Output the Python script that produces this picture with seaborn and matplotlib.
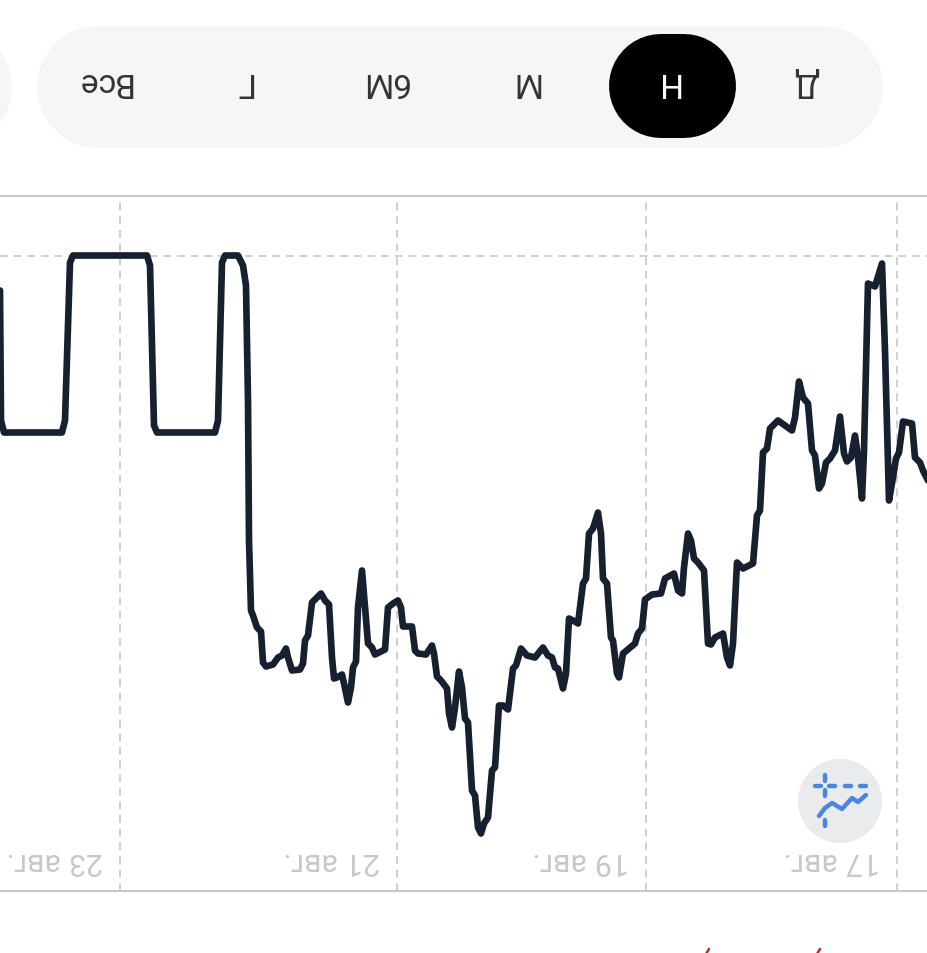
import matplotlib
matplotlib.use('Agg')
import matplotlib.pyplot as plt
from matplotlib.patches import Circle
import pandas as pd
import seaborn as sns

# the source screenshot is upside down, so both axes get inverted below
pos = [928, 927, 924, 866, 863, 858, 855, 781, 778, 774, 771, 713, 710, 706, 703, 690, 685, 682, 680, 679,
       677, 675, 671, 667, 665, 662, 655, 650, 646, 642, 640, 636, 628, 625, 623, 620, 616, 612, 607, 603,
       599, 596, 594, 591, 586, 584, 580, 577, 575, 572, 570, 566, 563, 560, 556, 553, 543, 540, 535, 530,
       527, 525, 516, 513, 510, 502, 496, 494, 491, 487, 481, 479, 476, 473, 469, 466, 463, 460, 456, 453,
       450, 447, 444, 440, 436, 433, 429, 425, 420, 415, 412, 407, 401, 393, 385, 380, 376, 373, 370, 365,
       362, 359, 355, 350, 345, 342, 339, 335, 330, 327, 325, 321, 317, 315, 311, 309, 305, 293, 290, 286,
       283, 276, 267, 263, 254, 250, 246, 244, 240, 237, 234, 230, 224, 220, 217, 213, 205, 201, 198, 195,
       191, 185, 175, 171, 168, 165, 161, 158, 150, 143, 136, 133, 129, 125, 120, 116, 113, 109, 106, 102,
       98, 93, 88, 84, 81, 77, 73, 70, 66, 64, 60, 53, 46, 43, 39, 35, 32, 29, 25, 16, 13, 8, 5, 0]
value = [35, 165, 177, 177, 165, 7, 0, 0, 10, 170, 177, 177, 165, 7, 0, 0, 10, 30, 145, 285,
         355, 360, 372, 376, 407, 411, 409, 402, 400, 393, 402, 415, 414, 408, 385, 380, 347, 343, 338, 345,
         349, 402, 423, 422, 419, 428, 447, 432, 412, 406, 352, 315, 352, 388, 392, 399, 394, 352, 348, 345,
         352, 371, 371, 395, 398, 399, 390, 398, 421, 425, 433, 458, 472, 452, 416, 432, 463, 467, 535, 540,
         572, 578, 568, 562, 515, 512, 450, 450, 454, 413, 410, 393, 400, 402, 392, 400, 402, 412, 413, 433,
         418, 363, 365, 368, 328, 323, 278, 273, 257, 278, 323, 328, 382, 385, 418, 422, 398, 388, 378, 373,
         344, 339, 338, 323, 318, 335, 338, 312, 278, 285, 303, 307, 315, 388, 389, 382, 378, 402, 410, 388,
         307, 313, 308, 260, 255, 197, 193, 173, 165, 170, 175, 162, 126, 142, 148, 195, 200, 233, 228, 207,
         203, 195, 161, 198, 206, 202, 180, 202, 243, 195, 28, 31, 8, 95, 245, 222, 203, 197, 166, 168, 202, 207, 215, 225]

tick_pos = [31, 282, 531, 808]
tick_labels = ['17 авг.', '19 авг.', '21 авг.', '23 авг.']
periods = ['Д', 'Н', 'М', '6М', 'Г', 'Все']
period_x = [807, 667, 525, 384, 243, 103]

sns.set_theme(style='white')
plt.rcParams['font.family'] = ['Roboto', 'DejaVu Sans']

df = pd.DataFrame({'pos': pos, 'value': value})

fig = plt.figure(figsize=(9.28, 9.54), dpi=100)
ax = fig.add_axes([0, 62.5 / 954, 1, 695 / 954])

sns.lineplot(data=df, x='pos', y='value', sort=False, estimator=None, color='#17202e', linewidth=4.8,
             solid_joinstyle='round', solid_capstyle='round', ax=ax, zorder=3)

ax.set_xlim(928, 0)
ax.set_ylim(635, -60)
ax.set_xlabel('')
ax.set_ylabel('')
ax.set_yticks([])
ax.set_xticks(tick_pos)
ax.set_xticklabels([])
ax.tick_params(axis='x', length=0)
ax.grid(axis='x', color='#cfcfcf', linewidth=1.4, linestyle=(0, (4, 3)))
ax.axhline(0, color='#cfcfcf', linewidth=1.4, linestyle=(0, (4, 3)), zorder=1)

for t, lab in zip(tick_pos, tick_labels):
    ax.text(t + 17, 605, lab, rotation=180, ha='right', va='center', fontsize=22, color='#c6c8cb')

for side in ['left', 'right']:
    ax.spines[side].set_visible(False)
for side in ['top', 'bottom']:
    ax.spines[side].set_color('#c8c8c8')
    ax.spines[side].set_linewidth(1.5)

# period switcher and the little icon, drawn on a full figure overlay
ov = fig.add_axes([0, 0, 1, 1], zorder=5)
ov.set_xlim(0, 928)
ov.set_ylim(953, -1)
ov.axis('off')


def pill(x0, x1, yc, height, color):
    # thick line with round caps gives a true stadium shape
    r = height / 2
    ov.plot([x0 + r, x1 - r], [yc, yc], color=color, lw=height * 0.72, solid_capstyle='round')


ov.add_patch(Circle((-49, 87), 61, facecolor='#f5f7f7', edgecolor='none'))
pill(37, 883, 87, 122, '#f5f7f7')
pill(609, 736, 86, 104, '#000000')

for x, lab in zip(period_x, periods):
    ov.text(x, 81, lab, rotation=180, ha='center', va='center', fontsize=24,
            color='white' if lab == 'Н' else '#333333')

ov.add_patch(Circle((840, 801), 42, facecolor='#e9ebed', edgecolor='none'))
blue = '#4a86e0'
ov.plot([819, 825, 832, 842, 852, 858, 866], [816, 808, 803, 809, 798, 802, 795], color=blue, lw=3.2,
        solid_capstyle='round', solid_joinstyle='round')
for x in [818, 832, 848, 863]:
    ov.plot([x - 3, x + 3], [786, 786], color=blue, lw=3.2, solid_capstyle='round')
for y in [778, 793, 823]:
    ov.plot([825, 825], [y - 3, y + 3], color=blue, lw=3.2, solid_capstyle='round')

# red bits cut off at the bottom edge
for x in [706, 817]:
    ov.plot([x, x + 3], [954, 949], color='#b5302a', lw=1.8)

fig.savefig('out.png', dpi=100, facecolor='white')
